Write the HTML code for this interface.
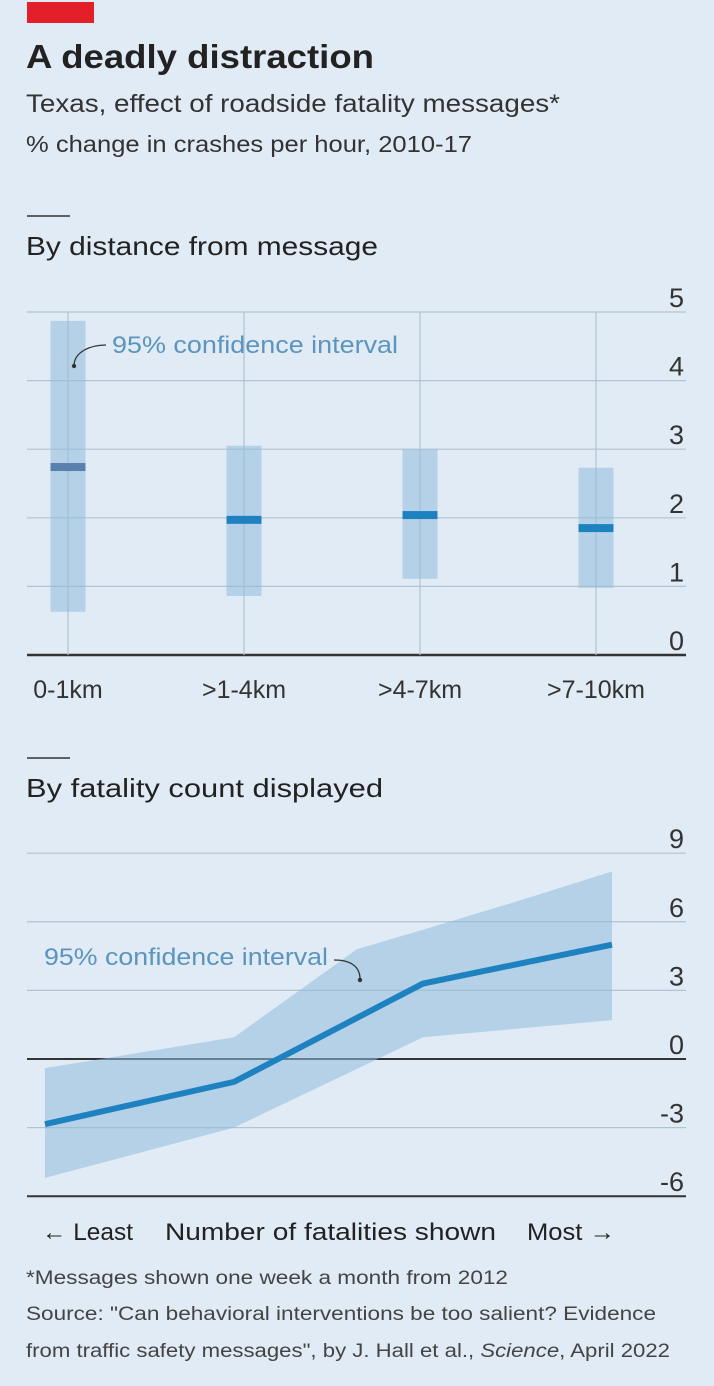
<!DOCTYPE html>
<html><head><meta charset="utf-8"><style>
body{margin:0;background:#fff}
#wrap{position:relative;width:714px;height:1386px;background:#e0ebf5;overflow:hidden;font-family:"Liberation Sans",sans-serif}
svg text{font-family:"Liberation Sans",sans-serif}
</style></head><body>
<div id="wrap">
<svg id="svg" width="714" height="1386">
<rect x="27" y="2" width="67" height="21" fill="#e3202a"/>
<text x="26" y="68" font-size="33" font-weight="bold" fill="#222" textLength="348" lengthAdjust="spacingAndGlyphs">A deadly distraction</text>
<text x="26" y="112" font-size="25" fill="#333" textLength="534" lengthAdjust="spacingAndGlyphs">Texas, effect of roadside fatality messages*</text>
<text x="26" y="152" font-size="23" fill="#333" textLength="446" lengthAdjust="spacingAndGlyphs">% change in crashes per hour, 2010-17</text>
<line x1="27" y1="216" x2="70" y2="216" stroke="#333" stroke-width="1.5"/>
<text x="26" y="255" font-size="26" fill="#222" textLength="352" lengthAdjust="spacingAndGlyphs">By distance from message</text>
<line x1="27" y1="758" x2="70" y2="758" stroke="#333" stroke-width="1.5"/>
<text x="26" y="797" font-size="26" fill="#222" textLength="357" lengthAdjust="spacingAndGlyphs">By fatality count displayed</text>
<g id="topG"></g>
<g id="botG"></g>
<text x="42" y="1240" font-size="24" fill="#222" textLength="91" lengthAdjust="spacingAndGlyphs">← Least</text>
<text x="165" y="1240" font-size="24" fill="#222" textLength="331" lengthAdjust="spacingAndGlyphs">Number of fatalities shown</text>
<text x="527" y="1240" font-size="24" fill="#222" textLength="88" lengthAdjust="spacingAndGlyphs">Most →</text>
<text x="26" y="1284" font-size="19" fill="#444" textLength="482" lengthAdjust="spacingAndGlyphs">*Messages shown one week a month from 2012</text>
<text x="26" y="1320" font-size="19" fill="#444" textLength="630" lengthAdjust="spacingAndGlyphs">Source: "Can behavioral interventions be too salient? Evidence</text>
<text x="26" y="1357" font-size="19" fill="#444" textLength="644" lengthAdjust="spacingAndGlyphs">from traffic safety messages", by J. Hall et al., <tspan font-style="italic">Science</tspan>, April 2022</text>
</svg>
</div>
<script>
// Top chart data
const distCats = ["0-1km", ">1-4km", ">4-7km", ">7-10km"];
const distEst = [2.74, 1.97, 2.04, 1.85];
const distLow = [0.63, 0.86, 1.11, 0.98];
const distHigh = [4.87, 3.05, 3.0, 2.73];
const topTicks = [0, 1, 2, 3, 4, 5];
// Bottom chart data
const fatIdx = [0, 1, 2, 3];
const fatEst = [-2.85, -1.0, 3.3, 5.0];
const fatLow = [-5.2, -3.0, 0.95, 1.7];
const bandUpperIdx = [0, 1, 1.65, 2, 2.5, 3];
const bandUpper = [-0.4, 0.95, 4.8, 5.65, 6.9, 8.2];
const botTicks = [-6, -3, 0, 3, 6, 9];

const NS = "http://www.w3.org/2000/svg";
function mk(tag, attrs, parent){const e=document.createElementNS(NS,tag);for(const k in attrs)e.setAttribute(k,attrs[k]);parent.appendChild(e);return e;}

// top axes
const ty = v => 655 - v * 68.6;
const tx = i => 68 + i * 176;
const topG = document.getElementById("topG");
topTicks.forEach(t=>{
  const l = mk("line",{x1:27,x2:686,y1:ty(t),y2:ty(t),stroke:t===0?"#333":"#b3c3cf","stroke-width":t===0?2.5:1.2},topG);
  
  
  const tt = mk("text",{x:684,y:ty(t)-5,"font-size":27,fill:"#333","text-anchor":"end"},topG);
  tt.textContent = t;
  
  
});
distCats.forEach((c,i)=>{
  const v = mk("line",{x1:tx(i),x2:tx(i),y1:ty(5),y2:ty(0),stroke:"#b3c3cf","stroke-width":1.2},topG);
  
  
  const r = mk("rect",{x:tx(i)-17.5,y:ty(distHigh[i]),width:35,height:ty(distLow[i])-ty(distHigh[i]),fill:"#8fbcda","fill-opacity":0.55},topG);
  
  
  const m = mk("rect",{x:tx(i)-17.5,y:ty(distEst[i])-4,width:35,height:8,fill:i===0?"#5a80ad":"#1f82c0"},topG);
  
  
  const lb = mk("text",{x:tx(i),y:698,"font-size":25,fill:"#333","text-anchor":"middle"},topG);
  lb.textContent = c;
  
  
});
const a1 = mk("path",{d:"M74,366 C74,352 90,345 106,345",fill:"none",stroke:"#333","stroke-width":1.3},topG);


mk("circle",{cx:74,cy:366,r:2.2,fill:"#333"},topG);
const at1 = mk("text",{x:112,y:353,"font-size":24,fill:"#5b95bd",textLength:286,lengthAdjust:"spacingAndGlyphs"},topG);
at1.textContent = "95% confidence interval";



// bottom
const by = v => 1059 - v * 22.87;
const bx = i => 45 + i * 189;
const botG = document.getElementById("botG");
botTicks.forEach(t=>{
  const l = mk("line",{x1:27,x2:686,y1:by(t),y2:by(t),stroke:(t===0||t===-6)?"#333":"#b3c3cf","stroke-width":(t===0||t===-6)?2:1.2},botG);
  
  
  const tt = mk("text",{x:684,y:by(t)-5,"font-size":27,fill:"#333","text-anchor":"end"},botG);
  tt.textContent = t;
  
  
});
let d = bandUpperIdx.map((x,k)=>(k?"L":"M")+bx(x)+","+by(bandUpper[k])).join(" ");
for(let k=fatIdx.length-1;k>=0;k--) d += " L"+bx(fatIdx[k])+","+by(fatLow[k]);
const band = mk("path",{d:d+" Z",fill:"#8fbcda","fill-opacity":0.55},botG);


const line = mk("polyline",{points:fatIdx.map((x,k)=>bx(x)+","+by(fatEst[k])).join(" "),fill:"none",stroke:"#1f82c0","stroke-width":6,"stroke-linejoin":"round"},botG);


const a2 = mk("path",{d:"M334,960 C350,960 360,966 360,979",fill:"none",stroke:"#333","stroke-width":1.3},botG);


mk("circle",{cx:360,cy:980,r:2.2,fill:"#333"},botG);
const at2 = mk("text",{x:44,y:965,"font-size":24,fill:"#5b95bd",textLength:284,lengthAdjust:"spacingAndGlyphs"},botG);
at2.textContent = "95% confidence interval";


</script>
</body></html>
